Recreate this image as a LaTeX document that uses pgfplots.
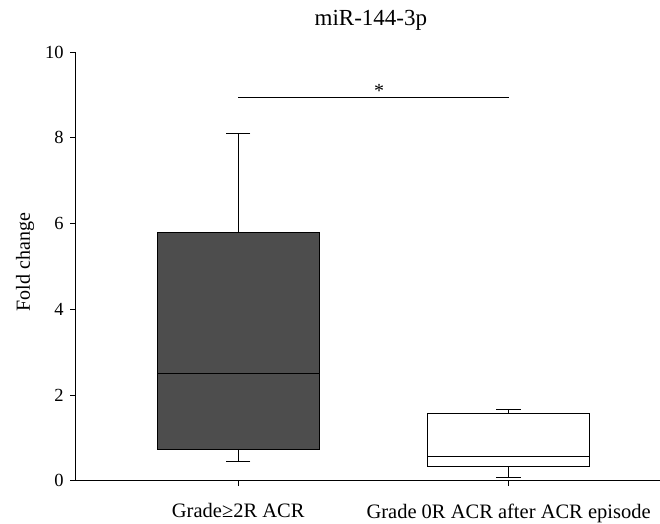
\documentclass[border=0pt]{standalone}
\usepackage{fontspec}
\setmainfont{Liberation Serif}
\usepackage{pgfplots}
\pgfplotsset{compat=1.18}
\usepgfplotslibrary{statistics}
\definecolor{boxdark}{HTML}{4D4D4D}
\begin{document}
\begin{tikzpicture}
\begin{axis}[
  scale only axis, width=584.3pt, height=428.7pt,
  xmin=0.399, xmax=2.56, ymin=0, ymax=10,
  boxplot/draw direction=y,
  axis x line*=bottom, axis y line*=left,
  xtick={1,2}, xticklabels={Grade≥2R ACR, Grade 0R ACR after ACR episode},
  ytick={0,2,...,10},
  tick align=outside, major tick length=5.5pt,
  tick style={black, line width=0.9pt},
  axis line style={black, line width=0.9pt},
  /pgf/number format/assume math mode=true,
  yticklabel style={font=\fontsize{18.5}{21}\selectfont, xshift=-3pt},
  xticklabel style={font=\fontsize{20.5}{24}\selectfont, yshift=-14pt},
  ylabel={Fold change},
  ylabel style={font=\fontsize{20}{24}\selectfont, at={(axis description cs:-0.0868,0.51)}, anchor=center},
  title={miR-144-3p},
  title style={font=\fontsize{23}{27}\selectfont, at={(axis description cs:0.5,1)}, anchor=base, yshift=21pt, xshift=3pt},
  clip=false,
]
\addplot[boxplot prepared={draw position=1, lower whisker=0.44, lower quartile=0.74, median=2.51, upper quartile=5.78, upper whisker=8.09, box extend=0.6, whisker extend=0.09}, draw=black, fill=boxdark, line width=0.9pt] coordinates {};
\addplot[boxplot prepared={draw position=2, lower whisker=0.07, lower quartile=0.33, median=0.56, upper quartile=1.57, upper whisker=1.67, box extend=0.6, whisker extend=0.09}, draw=black, fill=white, line width=0.9pt] coordinates {};
\addplot[black, line width=0.9pt] coordinates {(1,8.93) (2,8.93)};
\node[font=\fontsize{20}{24}\selectfont, anchor=base] at (axis cs:1.521,8.95) {*};
\end{axis}
\pgfresetboundingbox
\path[use as bounding box] (-75.7pt,-42.3pt) rectangle (584.3pt,480.7pt);
\end{tikzpicture}
\end{document}
